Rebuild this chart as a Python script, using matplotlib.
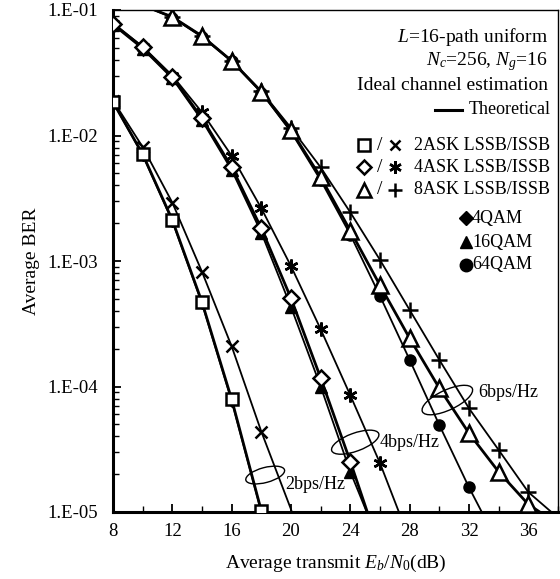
import numpy as np
import matplotlib
matplotlib.use("Agg")
import matplotlib.pyplot as plt
from matplotlib.patches import Ellipse
from matplotlib.ticker import FuncFormatter, MultipleLocator, LogLocator, NullFormatter
import matplotlib.transforms as mtransforms

plt.rcParams['font.family'] = ['Liberation Serif', 'DejaVu Serif']
plt.rcParams['mathtext.fontset'] = 'custom'
plt.rcParams['mathtext.rm'] = 'Liberation Serif'
plt.rcParams['mathtext.it'] = 'Liberation Serif:italic'

# ---------------- data ----------------
snr = [8, 10, 12, 14, 16, 18, 20, 22, 24, 26, 28, 30, 32, 34, 36, 38]

# 2 bps/Hz
ask2_lssb = [1.85e-2, 7.1e-3, 2.12e-3, 4.7e-4, 7.9e-5, 1.02e-5, 9.0e-7]
ask2_issb = [1.9e-2, 8.1e-3, 2.92e-3, 8.2e-4, 2.09e-4, 4.37e-5, 1.05e-5, 2.0e-6]
qam4 = [1.85e-2, 7.0e-3, 2.08e-3, 4.6e-4, 7.7e-5, 1.0e-5]

# 4 bps/Hz
ask4_lssb = [7.8e-2, 5.04e-2, 2.94e-2, 1.37e-2, 5.6e-3, 1.82e-3, 5.05e-4, 1.17e-4, 2.52e-5, 5.0e-6]
ask4_issb = [7.8e-2, 5.1e-2, 3.0e-2, 1.53e-2, 6.9e-3, 2.63e-3, 9.1e-4, 2.86e-4, 8.5e-5, 2.45e-5, 6.0e-6]
qam16 = [7.6e-2, 4.9e-2, 2.85e-2, 1.32e-2, 5.3e-3, 1.68e-3, 4.3e-4, 1.0e-4, 2.09e-5, 5.5e-6]

# 6 bps/Hz
ask8_lssb = [1.3e-1, 1.09e-1, 8.8e-2, 6.2e-2, 3.93e-2, 2.23e-2, 1.10e-2, 4.65e-3, 1.74e-3, 6.4e-4, 2.42e-4, 9.7e-5, 4.24e-5, 2.09e-5, 1.15e-5, 8.0e-6]
ask8_issb = [1.3e-1, 1.09e-1, 8.8e-2, 6.2e-2, 3.95e-2, 2.25e-2, 1.15e-2, 5.57e-3, 2.44e-3, 1.02e-3, 4.07e-4, 1.63e-4, 6.7e-5, 3.12e-5, 1.44e-5, 9.0e-6]
qam64 = [1.3e-1, 1.09e-1, 8.7e-2, 6.1e-2, 3.9e-2, 2.2e-2, 1.07e-2, 4.4e-3, 1.62e-3, 5.26e-4, 1.63e-4, 4.93e-5, 1.57e-5, 5.5e-6]

# visible marker ranges (number of points shown as markers)
ask2_mk = 6
ask2i_mk = 6
ask4_mk = 9
ask4i_mk = 10
ask8_mk = (2, 15)
ask8i_mk = (2, 15)
qam64_mk = (2, 13)

x_ticks = [8, 12, 16, 20, 24, 28, 32, 36]

# ---------------- figure ----------------
W, H = 560, 579
fig = plt.figure(figsize=(W / 100, H / 100), dpi=100)
L, R, T, B = 113, 558, 10, 512
ax = fig.add_axes([L / W, (H - B) / H, (R - L) / W, (B - T) / H])

def xs(n, start=0):
    return snr[start:start + n]

lw_th = 2.0
lw_s = 1.3
mew = 1.8

# 2 bps/Hz
ax.plot(xs(len(qam4)), qam4, color='k', lw=lw_s, marker='D', ms=6, mfc='k', mec='k', zorder=3)
ax.plot(xs(len(ask2_issb)), ask2_issb, color='k', lw=lw_s, zorder=3)
ax.plot(xs(ask2i_mk), ask2_issb[:ask2i_mk], ls='none', marker='x', ms=8, mew=mew, color='k', zorder=4)
ax.plot(xs(len(ask2_lssb)), ask2_lssb, color='k', lw=lw_th, zorder=3)
ax.plot(xs(ask2_mk), ask2_lssb[:ask2_mk], ls='none', marker='s', ms=9, mfc='white', mec='k', mew=mew, zorder=5)

# 4 bps/Hz
ax.plot(xs(len(qam16)), qam16, color='k', lw=lw_s, marker='^', ms=9, mfc='k', mec='k', zorder=3)
ax.plot(xs(len(ask4_issb)), ask4_issb, color='k', lw=lw_s, zorder=3)
ax.plot(xs(ask4i_mk), ask4_issb[:ask4i_mk], ls='none', marker=(6, 2, 0), ms=10, mew=mew, color='k', zorder=4)
ax.plot(xs(len(ask4_lssb)), ask4_lssb, color='k', lw=lw_th, zorder=3)
ax.plot(xs(ask4_mk), ask4_lssb[:ask4_mk], ls='none', marker='D', ms=8, mfc='white', mec='k', mew=mew, zorder=5)

# 6 bps/Hz
ax.plot(snr[:len(qam64)], qam64, color='k', lw=lw_s, zorder=3)
ax.plot(snr[qam64_mk[0]:qam64_mk[1]], qam64[qam64_mk[0]:qam64_mk[1]], ls='none', marker='o', ms=8, mfc='k', mec='k', zorder=3)
ax.plot(snr[:len(ask8_issb)], ask8_issb, color='k', lw=lw_s, zorder=3)
ax.plot(snr[ask8i_mk[0]:ask8i_mk[1]], ask8_issb[ask8i_mk[0]:ask8i_mk[1]], ls='none', marker='+', ms=11, mew=mew, color='k', zorder=4)
ax.plot(snr[:len(ask8_lssb)], ask8_lssb, color='k', lw=lw_th, zorder=3)
ax.plot(snr[ask8_mk[0]:ask8_mk[1]], ask8_lssb[ask8_mk[0]:ask8_mk[1]], ls='none', marker='^', ms=11, mfc='white', mec='k', mew=mew, zorder=5)

# axes
ax.set_yscale('log')
ax.set_xlim(8, 38)
ax.set_ylim(1e-5, 1e-1)
ax.set_xticks(x_ticks)
ax.xaxis.set_minor_locator(MultipleLocator(2))
ax.yaxis.set_major_locator(LogLocator(base=10, numticks=10))
ax.yaxis.set_minor_locator(LogLocator(base=10, subs=np.arange(2, 10), numticks=20))
ax.yaxis.set_minor_formatter(NullFormatter())
ax.yaxis.set_major_formatter(FuncFormatter(lambda v, p: "1.E-%02d" % int(round(-np.log10(v)))))
ax.tick_params(axis='both', which='major', direction='in', length=6, width=1.3, labelsize=13.5)
ax.tick_params(axis='y', which='major', pad=11)
ax.tick_params(axis='x', which='major', pad=8)
ax.tick_params(axis='both', which='minor', direction='in', length=4, width=1.0)
ax.tick_params(top=False, right=False)
for s in ['left', 'bottom']:
    ax.spines[s].set_linewidth(2.2)
for s in ['top', 'right']:
    ax.spines[s].set_linewidth(1.0)

ax.set_xlabel(r"Average transmit $E_b$/$N_0$(dB)", fontsize=14, labelpad=9)
ax.set_ylabel("Average BER", fontsize=14, labelpad=5)

# helper: pixel -> axes fraction
def fx(px):
    return (px - L) / (R - L)
def fy(py):
    return (B - py) / (B - T)

fs = 14
ax.text(fx(548), fy(37), r"$L$=16-path uniform", ha='right', va='center', fontsize=fs, transform=ax.transAxes)
ax.text(fx(548), fy(62), r"$N_c$=256, $N_g$=16", ha='right', va='center', fontsize=fs, transform=ax.transAxes)
ax.text(fx(548), fy(86), "Ideal channel estimation", ha='right', va='center', fontsize=fs, transform=ax.transAxes)

ax.plot([fx(435), fx(462)], [fy(110), fy(110)], color='k', lw=2.2, transform=ax.transAxes, clip_on=False)
ax.text(fx(469), fy(110), "Theoretical", ha='left', va='center', fontsize=13, transform=ax.transAxes)

rows = [(145, 's', 'x', "2ASK LSSB/ISSB", 9, 7),
        (167, 'D', (6, 2, 0), "4ASK LSSB/ISSB", 7, 9),
        (190, '^', '+', "8ASK LSSB/ISSB", 10, 10)]
for py, m1, m2, txt, s1, s2 in rows:
    ax.plot([fx(364)], [fy(py)], marker=m1, ms=s1, mfc='white', mec='k', mew=mew, transform=ax.transAxes, clip_on=False)
    ax.text(fx(380), fy(py), "/", ha='center', va='center', fontsize=fs, transform=ax.transAxes)
    ax.plot([fx(395)], [fy(py)], marker=m2, ms=s2, color='k', mew=mew, transform=ax.transAxes, clip_on=False)
    ax.text(fx(550), fy(py), txt, ha='right', va='center', fontsize=13, transform=ax.transAxes)

rows2 = [(218, 'D', "4QAM", 7), (242, '^', "16QAM", 9), (265, 'o', "64QAM", 9)]
for py, m, txt, s in rows2:
    ax.plot([fx(466)], [fy(py)], marker=m, ms=s, color='k', transform=ax.transAxes, clip_on=False)
    ax.text(fx(472), fy(py), txt, ha='left', va='center', fontsize=13, transform=ax.transAxes)

# ellipse annotations (centre in data coords, size in inches)
def ell(xc, yc, w, h, ang):
    tr = fig.dpi_scale_trans + mtransforms.ScaledTranslation(xc, yc, ax.transData)
    e = Ellipse((0, 0), w, h, angle=ang, fill=False, lw=1.0, color='k', transform=tr, zorder=6)
    ax.add_patch(e)

ell(18.26, 1.97e-5, 0.40, 0.15, 15)
ax.text(19.6, 1.67e-5, "2bps/Hz", fontsize=13, ha='left', va='center')
ell(24.33, 3.6e-5, 0.50, 0.18, 20)
ax.text(26.0, 3.55e-5, "4bps/Hz", fontsize=13, ha='left', va='center')
ell(30.54, 7.8e-5, 0.55, 0.20, 25)
ax.text(32.6, 9.0e-5, "6bps/Hz", fontsize=13, ha='left', va='center')

fig.savefig("out.png", dpi=100)
